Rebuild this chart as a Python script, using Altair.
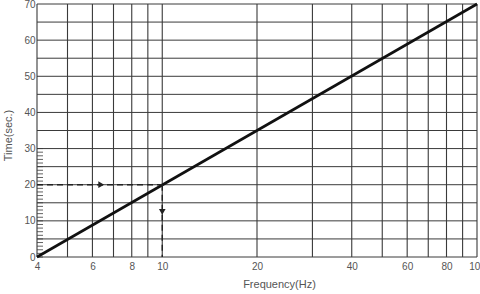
import altair as alt
import pandas as pd

# Data
grid_freqs = [4, 5, 6, 7, 8, 9, 10, 20, 30, 40, 50, 60, 70, 80, 90, 100]
grid_times = [0, 5, 10, 15, 20, 25, 30, 35, 40, 45, 50, 55, 60, 65, 70]
x_labels = [4, 6, 8, 10, 20, 40, 60, 80, 100]
y_labels = [0, 10, 20, 30, 40, 50, 60, 70]
minor_times = list(range(0, 31))
line_freq = [4, 100]
line_time = [0, 70]
dash_h_freq = [4, 10]
dash_h_time = [20, 20]
dash_v_freq = [10, 10]
dash_v_time = [20, 0]
arrow_freq = [6.4, 10]
arrow_time = [20, 12.5]
arrow_shape = ["triangle-right", "triangle-down"]

xscale = alt.Scale(type="log", domain=[4, 100], nice=False)
yscale = alt.Scale(domain=[0, 70], nice=False, zero=False)
GRID = "#3a3a3a"
TXT = "#555555"

xaxis = alt.Axis(values=x_labels, title="Frequency(Hz)", grid=False, ticks=False,
                 domain=False, labelFlush=False, labelOverlap=False, labelPadding=4,
                 labelFont="Liberation Sans", labelFontSize=10, labelColor=TXT,
                 titleFont="Liberation Sans", titleFontSize=11, titleFontWeight="normal",
                 titleColor=TXT, titleX=242, titleY=27, titleBaseline="middle", titleAlign="center")
yaxis = alt.Axis(values=y_labels, title="Time(sec.)", grid=False, ticks=False,
                 domain=False, labelPadding=2, labelOverlap=False, labelFlush=False,
                 labelFont="Liberation Sans", labelFontSize=10, labelColor=TXT,
                 titleFont="Liberation Sans", titleFontSize=11, titleFontWeight="normal",
                 titleColor=TXT, titleX=-29, titleY=131, titleAngle=270,
                 titleBaseline="middle", titleAlign="center")

X = lambda: alt.X("f:Q", scale=xscale, axis=xaxis)
Y = lambda: alt.Y("t:Q", scale=yscale, axis=yaxis)

vgrid = alt.Chart(pd.DataFrame({"f": grid_freqs})).mark_rule(color=GRID, strokeWidth=1.1).encode(x=X())
hgrid = alt.Chart(pd.DataFrame({"t": grid_times})).mark_rule(color=GRID, strokeWidth=1).encode(y=Y())
minor = alt.Chart(pd.DataFrame({"t": minor_times})).mark_rule(color=GRID, strokeWidth=0.8).encode(
    y=Y(), x=alt.value(0), x2=alt.value(6))

main = alt.Chart(pd.DataFrame({"f": line_freq, "t": line_time})).mark_line(
    color="#111111", strokeWidth=2.6).encode(x=X(), y=Y())
dh = alt.Chart(pd.DataFrame({"f": dash_h_freq, "t": dash_h_time})).mark_line(
    color="#222222", strokeWidth=1.4, strokeDash=[6, 4]).encode(x=X(), y=Y())
dv = alt.Chart(pd.DataFrame({"f": dash_v_freq, "t": dash_v_time})).mark_line(
    color="#222222", strokeWidth=1.4, strokeDash=[6, 4]).encode(x=X(), y=Y())
arrows = alt.Chart(pd.DataFrame({"f": arrow_freq, "t": arrow_time, "s": arrow_shape})).mark_point(
    filled=True, color="#222222", size=45, opacity=1).encode(
    x=X(), y=Y(), shape=alt.Shape("s:N", scale=None, legend=None))

chart = alt.layer(vgrid, hgrid, minor, main, dh, dv, arrows).properties(
    width=440, height=253,
    autosize=alt.AutoSizeParams(type="none"),
    padding={"left": 37, "top": 4, "right": 3, "bottom": 37},
    background="white",
).configure_view(stroke=None)

chart.save("out.html", embed_options={"renderer": "svg", "actions": False})
